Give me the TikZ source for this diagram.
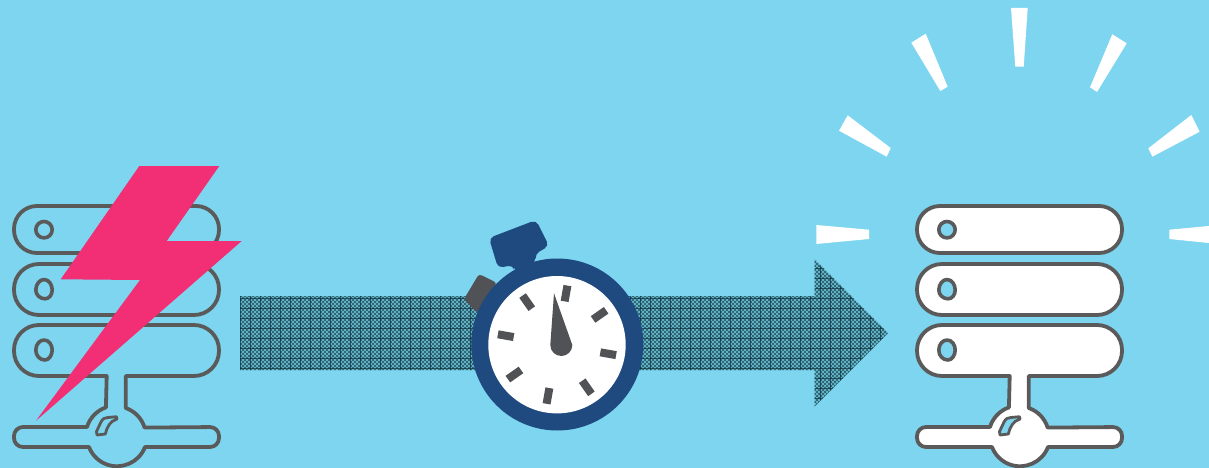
\documentclass[tikz,border=0pt]{standalone}
\usetikzlibrary{calc}
\definecolor{skybg}{HTML}{7DD5EF}
\definecolor{boltpink}{HTML}{F22E74}
\definecolor{navy}{HTML}{1F4A7F}
\definecolor{iconGray}{HTML}{505255}
\definecolor{serverGray}{HTML}{5A5A5A}
\definecolor{meshLight}{HTML}{64B0C3}
\definecolor{meshMid}{HTML}{2F6878}
\definecolor{meshDark}{HTML}{0F2F3A}
\tikzset{
  serverline/.style={draw=serverGray,line width=3.8pt,line join=round},
  ringline/.style={draw=serverGray,line width=3.6pt,line join=round,fill=skybg},
  ray/.style={fill=white,draw=none},
  tick/.style={fill=iconGray,draw=none},
}
% #1 = x offset, #2 = body fill
\newcommand{\serverIcon}[2]{%
  \begin{scope}[xshift=#1pt]
    \path[serverline,fill=#2,rounded corners=23pt] (14,206) rectangle (219,253);
    \path[serverline,fill=#2,rounded corners=25pt] (14,264) rectangle (219,315);
    \path[serverline,fill=#2]
      (125.7,376) -- (125.7,408) arc[start angle=-71,end angle=-17,radius=30]
      [rounded corners=9pt] -- (219,427) -- (219,447) [sharp corners] -- (145,447)
      arc[start angle=21,end angle=159,radius=30]
      [rounded corners=9pt] -- (14,447) -- (14,427) [sharp corners] -- (87,427)
      arc[start angle=197,end angle=251,radius=30]
      -- (106.7,376) [rounded corners=25pt] -- (14,376) -- (14,325) -- (219,325) -- (219,376) [sharp corners] -- cycle;
    \path[ringline] (44,229.7) circle[radius=8.2];
    \path[ringline] (35.8,290) .. controls (35.8,284) and (40,279.5) .. (44,279.5) .. controls (49,279.5) and (52.2,285) .. (52.2,290) .. controls (52.2,295) and (49,298.8) .. (45,298.8) .. controls (40,298.8) and (35.8,295) .. (35.8,290) -- cycle;
    \path[ringline] (35.8,350) .. controls (35.8,344) and (40,340) .. (44,340) .. controls (49,340) and (52.2,345) .. (52.2,350) .. controls (52.2,355) and (49,360) .. (45,360) .. controls (40,360) and (35.8,356) .. (35.8,350) -- cycle;
    \path[ringline,line width=2.8pt] (101,422) .. controls (103,418) and (105,418) .. (108,417.5) -- (116.5,416.7) -- (117,419) .. controls (110,421) and (107,427) .. (105.3,434) -- (97,435) -- (96.5,431.5) -- cycle;
  \end{scope}%
}
\begin{document}
\begin{tikzpicture}[x=1pt,y=-1pt]
\useasboundingbox (0,0) rectangle (1209,468);
\fill[skybg] (0,0) rectangle (1209,468);

% left server and bolt
\serverIcon{0}{skybg}
\fill[boltpink] (139.3,166) -- (219.3,166) -- (166.7,241) -- (241.7,241) -- (36,420.7) -- (140,280) -- (60.7,279.3) -- cycle;

% meshed arrow
\begin{scope}
  \clip (240,296) -- (814.5,296) -- (814.5,259) -- (888,333) -- (814.5,406.5) -- (814.5,370) -- (240,370) -- cycle;
  \fill[meshLight] (240,255) rectangle (890,410);
  \foreach \y in {255,259,...,409} {
    \draw[meshMid,line width=2pt,dash pattern=on 2pt off 2pt] (240,\y+1) -- (890,\y+1);
    \draw[meshMid,line width=2pt,dash pattern=on 2pt off 2pt,dash phase=2pt] (240,\y+3) -- (890,\y+3);
  }
  \foreach \y in {258.5,268.5,...,410} \draw[meshDark,line width=1pt,opacity=.7] (240,\y) -- (890,\y);
  \foreach \x in {240.5,250.5,...,890} \draw[meshDark,line width=1pt,opacity=.7] (\x,255) -- (\x,410);
\end{scope}

% stopwatch
\fill[iconGray,rounded corners=3pt] (464,299) -- (479,274) -- (497,283) -- (477,313) -- cycle;
\fill[navy,rounded corners=5pt] (489,238) -- (536,220) -- (549,246) -- (535,254) -- (536,262) -- (515,272) -- (513,265) -- (498,268) -- cycle;
\fill[navy] (557.3,344.5) circle[radius=86];
\fill[white] (557,344.7) circle[radius=68.7];
\foreach \a in {10,55,...,325}
  \fill[tick,rotate around={-\a:(557,344.7)}] (553,284.7) rectangle (561,300.7);
\fill[iconGray] (554,293.3) -- (550.3,345) arc[start angle=180,end angle=0,radius=11] -- cycle;

% right server
\serverIcon{903}{white}

% rays
\fill[ray] (1011,8) -- (1027.7,8) -- (1023.7,66.7) -- (1015.3,66.7) -- cycle;
\fill[ray] (911.3,42.7) -- (925.7,33.7) -- (947.7,86.7) -- (940.3,91) -- cycle;
\fill[ray] (1112.3,34.3) -- (1126.7,43.3) -- (1097,92) -- (1090,87.3) -- cycle;
\fill[ray] (847.7,115.3) -- (839,130.7) -- (886.7,156.7) -- (890.7,148) -- cycle;
\fill[ray] (1191.3,115) -- (1199.7,131.7) -- (1152.3,156.7) -- (1148.3,148.3) -- cycle;
\fill[ray] (816.3,225) -- (869,229.7) -- (869,239) -- (816.3,244) -- cycle;
\fill[ray] (1169.3,229.7) -- (1209,226) -- (1209,243) -- (1169.3,239) -- cycle;
\end{tikzpicture}
\end{document}
